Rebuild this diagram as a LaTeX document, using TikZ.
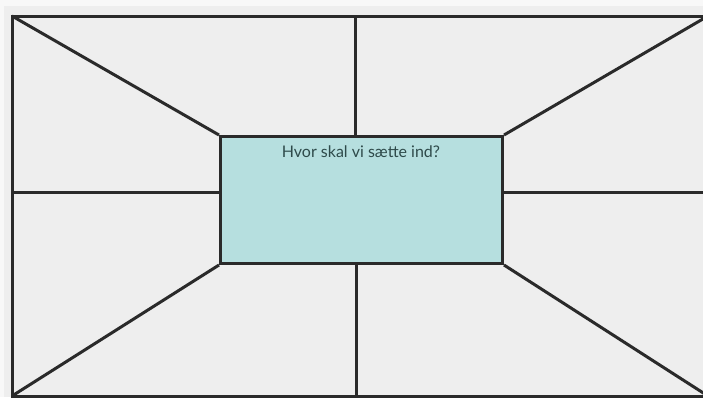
\documentclass[tikz,border=0pt]{standalone}
\usepackage{fontspec}
\setmainfont{Lato}
\definecolor{pagebg}{HTML}{F8F8F8}
\definecolor{panelbg}{HTML}{EEEEEE}
\definecolor{boxfill}{HTML}{B6DFDF}
\definecolor{linec}{HTML}{2A2A2A}
\definecolor{textc}{HTML}{2E4A4A}
\begin{document}
\begin{tikzpicture}[x=1pt,y=-1pt,
  frame/.style={draw=linec,line width=3pt},
  centerbox/.style={frame,fill=boxfill,minimum width=282pt,minimum height=127pt,inner sep=0pt,anchor=north west},
  label/.style={text=textc,font=\fontsize{16}{18}\selectfont}]
\useasboundingbox (0,0) rectangle (703,397);
\fill[pagebg] (0,0) rectangle (703,397);
\fill[panelbg] (4,6) rectangle (703,397);
\begin{scope}
\clip (0,0) rectangle (703,397);
\coordinate (tl) at (12,16);
\coordinate (tr) at (708,16);
\coordinate (bl) at (12,396);
\coordinate (br) at (708,396);
\node[centerbox] (c) at (219,135) {};
\draw[frame] (tl) -- (tr) -- (br) -- (bl) -- cycle;
\draw[frame] (tl) -- (c.north west);
\draw[frame] (tr) -- (c.north east);
\draw[frame] (bl) -- (c.south west);
\draw[frame] (br) -- (c.south east);
\coordinate (tm) at (355,16);
\coordinate (bm) at (356,396);
\coordinate (lm) at (12,192);
\coordinate (rm) at (708,192);
\draw[frame] (tm) -- (tm |- c.north);
\draw[frame] (bm) -- (bm |- c.south);
\draw[frame] (lm) -- (lm -| c.west);
\draw[frame] (rm) -- (rm -| c.east);
\node[label,anchor=base] (t) at (361,157) {Hvor skal vi sætte ind?};
\end{scope}
\end{tikzpicture}
\end{document}
